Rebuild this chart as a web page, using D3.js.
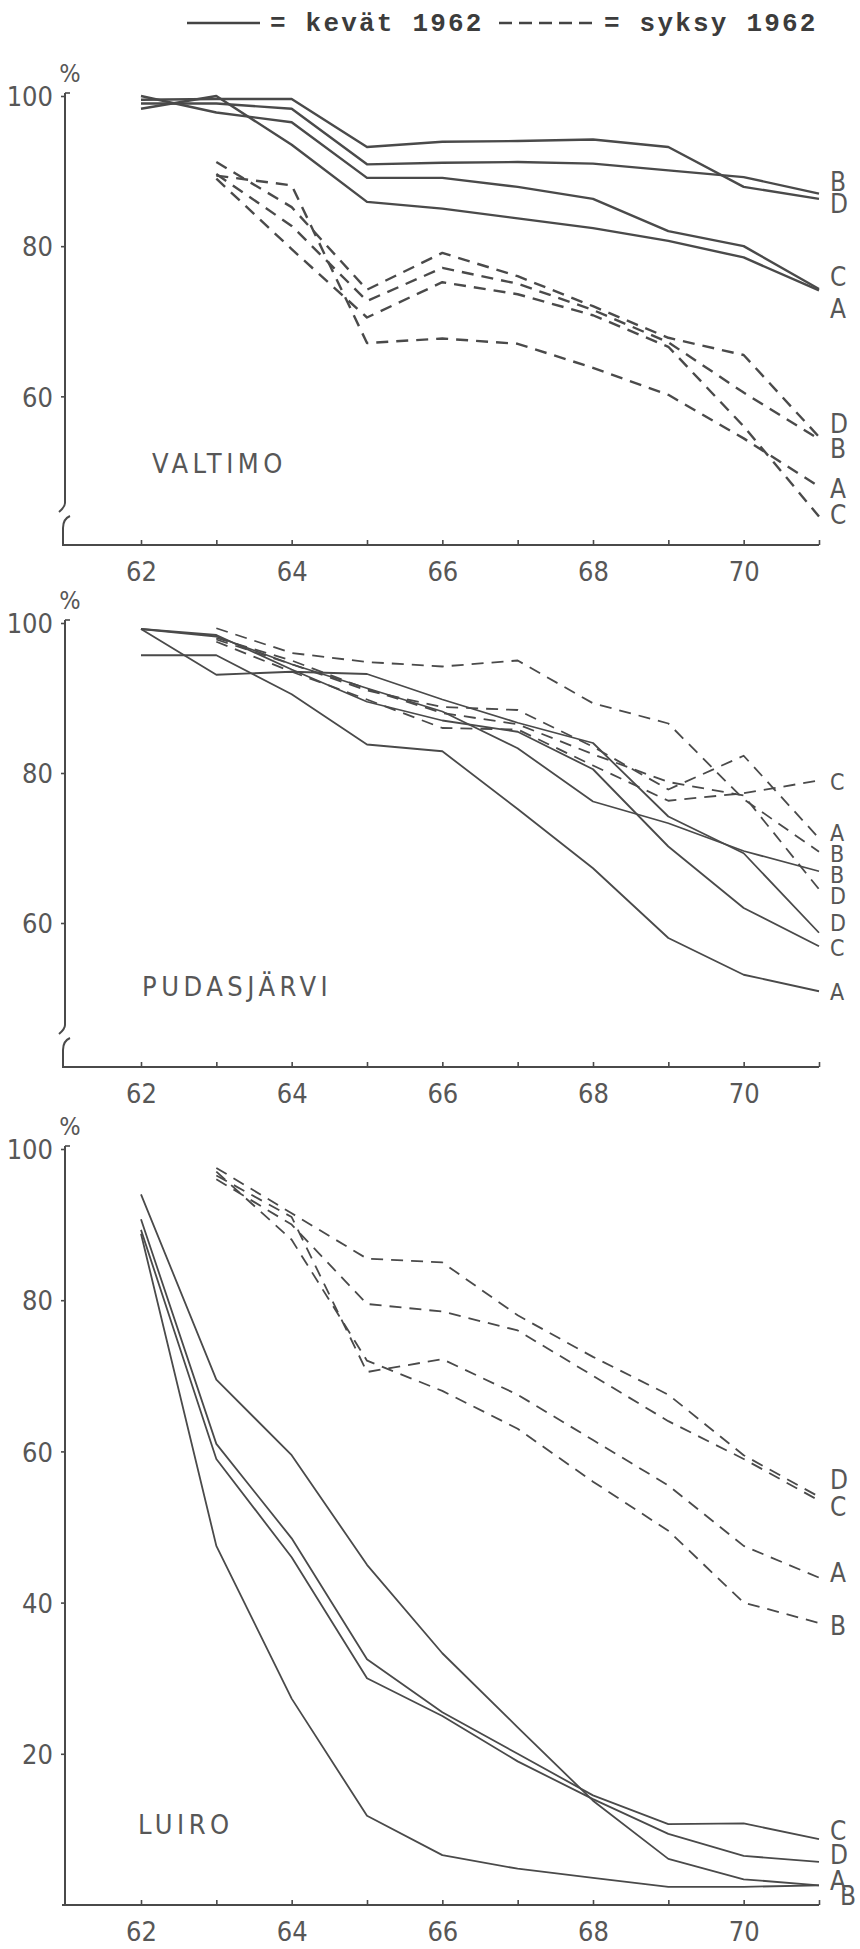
<!DOCTYPE html>
<html><head><meta charset="utf-8">
<script src="https://cdn.jsdelivr.net/npm/d3@7"></script>
<style>
html,body{margin:0;padding:0;background:#fff;}
svg{display:block;}
</style></head><body>
<svg id="chart" width="860" height="1949"></svg>
<script>
// ---------------- DATA ----------------
const years = [62, 63, 64, 65, 66, 67, 68, 69, 70, 71];
const yearTickLabels = ["62", "64", "66", "68", "70"];
const seriesNames = ["A", "B", "C", "D"];
const legendLabels = ["= kevät 1962", "= syksy 1962"];
const panelNames = ["VALTIMO", "PUDASJÄRVI", "LUIRO"];
const yTicks1 = [100, 80, 60];
const yTicks2 = [100, 80, 60];
const yTicks3 = [100, 80, 60, 40, 20];

// VALTIMO – kevät 1962 (solid)
const valtimoKevatA = [98.3, 100.0, 93.5, 85.9, 85.0, 83.7, 82.4, 80.7, 78.5, 74.1];
const valtimoKevatB = [99.0, 99.0, 98.3, 90.9, 91.1, 91.2, 91.0, 90.1, 89.2, 87.0];
const valtimoKevatC = [100.0, 97.8, 96.5, 89.1, 89.1, 87.9, 86.3, 82.0, 80.0, 74.3];
const valtimoKevatD = [99.5, 99.6, 99.6, 93.2, 93.9, 94.0, 94.2, 93.2, 87.9, 86.3];
// VALTIMO – syksy 1962 (dashed)
const valtimoSyksyA = [null, 89.4, 88.1, 67.1, 67.7, 67.0, 63.8, 60.2, 54.4, 48.0];
const valtimoSyksyB = [null, 89.6, 82.7, 72.7, 77.1, 75.0, 71.5, 67.2, 60.5, 54.3];
const valtimoSyksyC = [null, 89.0, 79.6, 70.5, 75.2, 73.6, 70.8, 66.6, 56.0, 44.0];
const valtimoSyksyD = [null, 91.2, 85.2, 74.2, 79.1, 76.0, 72.0, 67.8, 65.5, 54.6];

// PUDASJÄRVI – kevät 1962 (solid)
const pudasKevatA = [95.7, 95.7, 90.5, 83.8, 82.9, 75.2, 67.3, 58.0, 53.1, 50.9];
const pudasKevatB = [99.2, 98.2, 94.5, 91.3, 88.2, 83.3, 76.2, 73.3, 69.6, 66.9];
const pudasKevatC = [99.2, 98.4, 93.8, 89.5, 87.0, 85.5, 80.5, 70.2, 62.0, 56.9];
const pudasKevatD = [99.2, 93.1, 93.5, 93.2, 89.8, 86.7, 84.0, 74.2, 69.3, 58.7];
// PUDASJÄRVI – syksy 1962 (dashed)
const pudasSyksyA = [null, 97.8, 94.5, 91.0, 88.8, 88.4, 83.5, 77.8, 82.3, 71.3];
const pudasSyksyB = [null, 99.3, 96.0, 94.8, 94.2, 95.0, 89.3, 86.6, 76.5, 69.5];
const pudasSyksyC = [null, 97.5, 93.5, 89.8, 86.0, 85.8, 81.0, 76.3, 77.3, 79.0];
const pudasSyksyD = [null, 98.0, 95.0, 91.2, 88.0, 86.5, 82.5, 78.8, 77.0, 64.5];

// LUIRO – kevät 1962 (solid)
const luiroKevatA = [94.0, 69.5, 59.5, 45.0, 33.3, 23.5, 13.8, 6.1, 3.4, 2.6];
const luiroKevatB = [88.8, 47.5, 27.3, 11.8, 6.6, 4.8, 3.6, 2.4, 2.4, 2.6];
const luiroKevatC = [90.7, 61.0, 48.5, 32.5, 25.5, 20.0, 14.5, 10.7, 10.8, 8.7];
const luiroKevatD = [89.3, 59.0, 46.0, 30.0, 25.0, 19.0, 14.0, 9.4, 6.5, 5.7];
// LUIRO – syksy 1962 (dashed)
const luiroSyksyA = [null, 96.5, 91.0, 70.5, 72.2, 67.5, 61.5, 55.5, 47.5, 43.3];
const luiroSyksyB = [null, 97.0, 88.0, 72.0, 68.0, 63.0, 56.0, 49.5, 40.0, 37.3];
const luiroSyksyC = [null, 96.0, 90.0, 79.5, 78.5, 76.0, 70.0, 64.0, 59.0, 53.5];
const luiroSyksyD = [null, 97.5, 91.5, 85.5, 85.0, 78.0, 72.5, 67.5, 59.5, 54.0];

// End-of-line letter labels: [letter, value where label sits]
const valtimoEndLabels = [["B", 88.6], ["D", 85.6], ["C", 75.9], ["A", 71.7], ["D", 56.4], ["B", 53.0], ["A", 47.7], ["C", 44.2]];
const pudasEndLabels = [["C", 78.8], ["A", 72.0], ["B", 69.2], ["B", 66.5], ["D", 63.7], ["D", 60.0], ["C", 56.7], ["A", 50.8]];
const luiroEndLabels = [["D", 56.2], ["C", 52.7], ["A", 43.9], ["B", 36.9], ["C", 9.8], ["D", 6.7], ["A", 3.2], ["B", 1.2]];

// ---------------- LAYOUT ----------------
const INK = "#4a4a4a";
const TXT = "#575757";
const numFont = "'DejaVu Sans Condensed','DejaVu Sans',sans-serif";
const monoFont = "'Liberation Mono','DejaVu Sans Mono',monospace";

const panels = [
  { name: panelNames[0], top: 96, axisY: 545, floor: 40.2, ticks: yTicks1, brk: true, lw: 2.4, labelSize: 26,
    kevat: [valtimoKevatA, valtimoKevatB, valtimoKevatC, valtimoKevatD],
    syksy: [valtimoSyksyA, valtimoSyksyB, valtimoSyksyC, valtimoSyksyD],
    labels: valtimoEndLabels, nameX: 152, nameY: 463 },
  { name: panelNames[1], top: 623, axisY: 1067, floor: 40.8, ticks: yTicks2, brk: true, lw: 1.8, labelSize: 23,
    kevat: [pudasKevatA, pudasKevatB, pudasKevatC, pudasKevatD],
    syksy: [pudasSyksyA, pudasSyksyB, pudasSyksyC, pudasSyksyD],
    labels: pudasEndLabels, nameX: 142, nameY: 986 },
  { name: panelNames[2], top: 1149, axisY: 1905, floor: 0, ticks: yTicks3, brk: false, lw: 1.8, labelSize: 26,
    kevat: [luiroKevatA, luiroKevatB, luiroKevatC, luiroKevatD],
    syksy: [luiroSyksyA, luiroSyksyB, luiroSyksyC, luiroSyksyD],
    labels: luiroEndLabels, nameX: 138, nameY: 1824 }
];

const svg = d3.select("#chart");
svg.append("rect").attr("width", 860).attr("height", 1949).attr("fill", "#fff");

const x = d3.scaleLinear().domain([62, 71]).range([141, 819]);
const axisX = 65;

// ---------------- LEGEND ----------------
const leg = svg.append("g");
leg.append("line").attr("x1", 187).attr("x2", 260).attr("y1", 23).attr("y2", 23)
  .attr("stroke", "#444").attr("stroke-width", 2.6);
leg.append("line").attr("x1", 499).attr("x2", 596).attr("y1", 23).attr("y2", 23)
  .attr("stroke", "#444").attr("stroke-width", 2.6).attr("stroke-dasharray", "13,7");
leg.selectAll("text.lg").data(legendLabels).enter().append("text")
  .attr("x", (d, i) => i === 0 ? 270 : 604)
  .attr("y", 31)
  .attr("font-family", monoFont).attr("font-weight", "bold").attr("font-size", 26)
  .attr("letter-spacing", 2.2)
  .attr("fill", "#3c3c3c")
  .style("white-space", "pre")
  .text(d => d);

// ---------------- PANELS ----------------
panels.forEach(p => {
  const g = svg.append("g");
  const y = d3.scaleLinear().domain([p.floor, 100]).range([p.axisY, p.top]);

  // y axis (ticks + labels) via d3
  const yAxis = d3.axisLeft(y).tickValues(p.ticks).tickSize(4).tickPadding(8).tickFormat(d3.format("d"));
  const ya = g.append("g").attr("transform", `translate(${axisX},0)`).call(yAxis);
  ya.select(".domain").remove();
  ya.selectAll(".tick line").attr("stroke", INK).attr("stroke-width", 1.6);
  ya.selectAll(".tick text").attr("font-family", numFont).attr("font-stretch", "condensed")
    .attr("font-size", 27).attr("fill", TXT).attr("dy", "0.36em");
  // little top stub at 100
  g.append("line").attr("x1", axisX).attr("x2", axisX + 5).attr("y1", y(100) - 3).attr("y2", y(100) - 3)
    .attr("stroke", INK).attr("stroke-width", 1.6);

  // y axis line (with break)
  if (p.brk) {
    const b1 = p.axisY - 42, b2 = p.axisY - 29;
    g.append("path")
      .attr("d", `M${axisX},${y(100) - 3} L${axisX},${b1} Q${axisX},${b1 + 4} ${axisX - 6},${b1 + 9}`)
      .attr("fill", "none").attr("stroke", INK).attr("stroke-width", 2);
    g.append("path")
      .attr("d", `M${axisX + 5},${b2} Q${axisX - 2},${b2 + 3} ${axisX - 2},${b2 + 12} L${axisX - 2},${p.axisY}`)
      .attr("fill", "none").attr("stroke", INK).attr("stroke-width", 2);
  } else {
    g.append("line").attr("x1", axisX).attr("x2", axisX).attr("y1", y(100) - 3).attr("y2", p.axisY)
      .attr("stroke", INK).attr("stroke-width", 2);
  }

  // x axis via d3
  const xAxis = d3.axisBottom(x).tickValues(years).tickSizeInner(-5).tickSizeOuter(0).tickPadding(17)
    .tickFormat(d => yearTickLabels.includes(String(d)) ? String(d) : "");
  const xa = g.append("g").attr("transform", `translate(0,${p.axisY})`).call(xAxis);
  xa.select(".domain").remove();
  xa.selectAll(".tick line").attr("stroke", INK).attr("stroke-width", 1.6);
  xa.selectAll(".tick text").attr("font-family", numFont).attr("font-stretch", "condensed")
    .attr("font-size", 27).attr("fill", TXT);
  g.append("line").attr("x1", axisX - 3).attr("x2", x(71)).attr("y1", p.axisY).attr("y2", p.axisY)
    .attr("stroke", INK).attr("stroke-width", 2);

  // "%"
  g.append("text").attr("x", 70).attr("y", p.top - 23).attr("dy", "0.36em").attr("text-anchor", "middle")
    .attr("font-family", numFont).attr("font-stretch", "condensed").attr("font-size", 25).attr("fill", TXT).text("%");

  // panel name
  g.append("text").attr("x", p.nameX).attr("y", p.nameY).attr("dy", "0.36em")
    .attr("font-family", numFont).attr("font-stretch", "condensed").attr("font-size", 27)
    .attr("letter-spacing", 4.5).attr("fill", TXT).text(p.name);

  // lines
  const line = d3.line().defined(d => d[1] != null).x(d => x(d[0])).y(d => y(d[1]));
  p.kevat.forEach(vals => {
    g.append("path").datum(years.map((yr, i) => [yr, vals[i]]))
      .attr("d", line).attr("fill", "none").attr("stroke", INK)
      .attr("stroke-width", p.lw).attr("stroke-linejoin", "round");
  });
  p.syksy.forEach(vals => {
    g.append("path").datum(years.map((yr, i) => [yr, vals[i]]))
      .attr("d", line).attr("fill", "none").attr("stroke", INK)
      .attr("stroke-width", p.lw).attr("stroke-dasharray", "12,8").attr("stroke-linejoin", "round");
  });

  // end labels
  g.selectAll("text.end").data(p.labels).enter().append("text")
    .attr("x", (d, i) => (p.name === "LUIRO" && i === p.labels.length - 1) ? 840 : 830)
    .attr("y", d => y(d[1])).attr("dy", "0.36em")
    .attr("font-family", numFont).attr("font-stretch", "condensed").attr("font-size", p.labelSize)
    .attr("fill", TXT).text(d => d[0]);
});
</script>
</body></html>
